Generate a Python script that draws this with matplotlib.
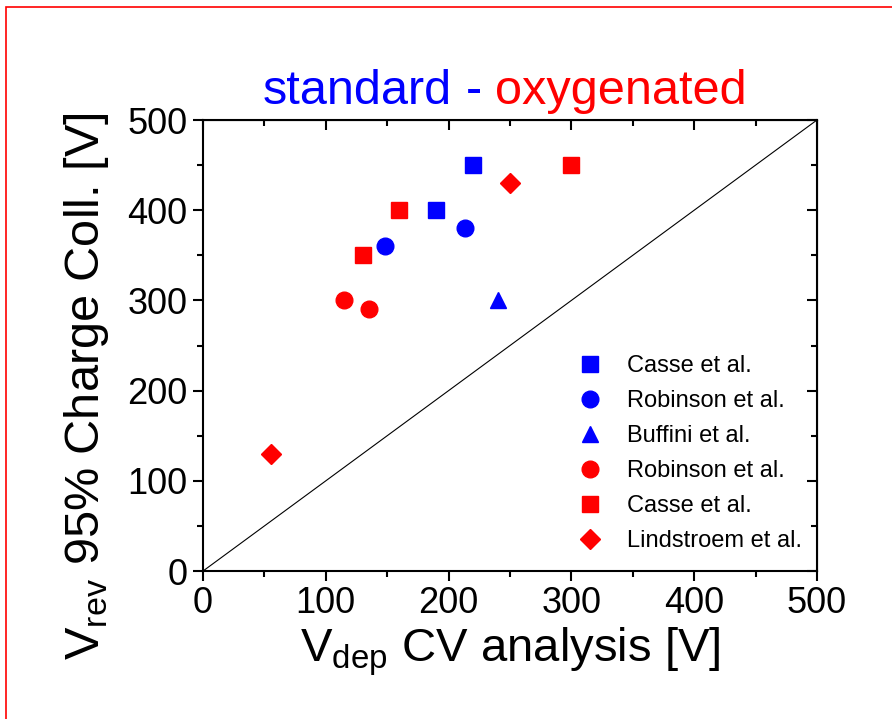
import matplotlib.pyplot as plt
from matplotlib.patches import Rectangle
from matplotlib.ticker import MultipleLocator

plt.rcParams['font.family'] = ['Liberation Sans', 'DejaVu Sans']
plt.rcParams['mathtext.fontset'] = 'custom'
plt.rcParams['mathtext.rm'] = 'Liberation Sans'

# standard (blue)
casse_std_x = [190, 220]
casse_std_y = [400, 450]
robinson_std_x = [148, 213]
robinson_std_y = [360, 380]
buffini_x = [240]
buffini_y = [300]

# oxygenated (red)
robinson_oxy_x = [115, 135]
robinson_oxy_y = [300, 290]
casse_oxy_x = [130, 160, 300]
casse_oxy_y = [350, 400, 450]
lindstroem_x = [55, 250]
lindstroem_y = [130, 430]

fig = plt.figure(figsize=(8.92, 7.19), dpi=100)
ax = fig.add_axes([0.2276, 0.2058, 0.6883, 0.6273])

ax.plot([0, 500], [0, 500], color='black', linewidth=0.8)

ms = 12
ax.plot(casse_std_x, casse_std_y, 's', color='blue', ms=ms, label='Casse et al.')
ax.plot(robinson_std_x, robinson_std_y, 'o', color='blue', ms=ms, label='Robinson et al.')
ax.plot(buffini_x, buffini_y, '^', color='blue', ms=ms, label='Buffini et al.')
ax.plot(robinson_oxy_x, robinson_oxy_y, 'o', color='red', ms=ms, label='Robinson et al.')
ax.plot(casse_oxy_x, casse_oxy_y, 's', color='red', ms=ms, label='Casse et al.')
ax.plot(lindstroem_x, lindstroem_y, 'D', color='red', ms=ms * 0.85, label='Lindstroem et al.')

ax.set_xlim(0, 500)
ax.set_ylim(0, 500)
ax.xaxis.set_major_locator(MultipleLocator(100))
ax.yaxis.set_major_locator(MultipleLocator(100))
ax.xaxis.set_minor_locator(MultipleLocator(50))
ax.yaxis.set_minor_locator(MultipleLocator(50))

for sp in ax.spines.values():
    sp.set_linewidth(1.5)

ax.tick_params(which='both', direction='out', width=1.5, labelsize=26, top=False, right=False)
ax.tick_params(which='major', length=7, pad=4)
ax.tick_params(which='minor', length=4)

# inward ticks on top and right
ax2 = ax.secondary_xaxis('top')
ax2.xaxis.set_major_locator(MultipleLocator(100))
ax2.xaxis.set_minor_locator(MultipleLocator(50))
ax2.tick_params(which='both', direction='in', width=1.5, labeltop=False)
ax2.tick_params(which='major', length=7)
ax2.tick_params(which='minor', length=4)
ax3 = ax.secondary_yaxis('right')
ax3.yaxis.set_major_locator(MultipleLocator(100))
ax3.yaxis.set_minor_locator(MultipleLocator(50))
ax3.tick_params(which='both', direction='in', width=1.5, labelright=False)
ax3.tick_params(which='major', length=7)
ax3.tick_params(which='minor', length=4)

ax.set_xlabel(r'V$_{\mathregular{dep}}$ CV analysis [V]', fontsize=34, labelpad=3)
ax.set_ylabel(r'V$_{\mathregular{rev}}$ 95% Charge Coll. [V]', fontsize=35)
ax.yaxis.set_label_coords(-0.150, 0.41)

# two-colour title
fig.text(0.507, 0.855, 'standard', color='blue', fontsize=35, ha='right', va='baseline')
fig.text(0.531, 0.855, '-', color='blue', fontsize=35, ha='center', va='baseline')
fig.text(0.555, 0.855, 'oxygenated', color='red', fontsize=35, ha='left', va='baseline')

ax.legend(loc='upper left', bbox_to_anchor=(0.576, 0.5), frameon=False, fontsize=17,
          handletextpad=0.6, labelspacing=0.55, numpoints=1, borderaxespad=0)

fig.patches.append(Rectangle((0.007, -0.05), 1.1, 1.04, transform=fig.transFigure,
                             fill=False, edgecolor='red', linewidth=1.2))

fig.savefig('out.png', dpi=100)
